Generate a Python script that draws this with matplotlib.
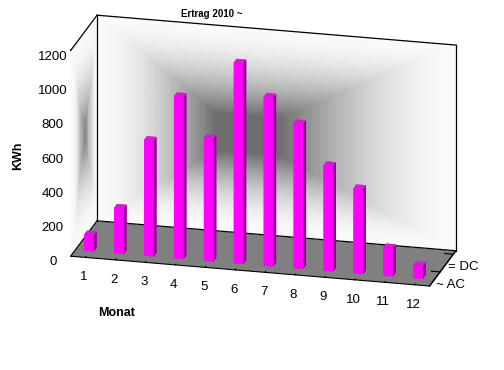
import numpy as np
import matplotlib
matplotlib.use("Agg")
import matplotlib.pyplot as plt

plt.rcParams['font.family'] = ['Liberation Sans', 'DejaVu Sans']

months = [1, 2, 3, 4, 5, 6, 7, 8, 9, 10, 11, 12]
kwh_ac = [95, 265, 675, 945, 715, 1170, 985, 845, 615, 495, 165, 75]
series = ['~ AC', '= DC']
z_ticks = [0, 200, 400, 600, 800, 1000, 1200]

fig = plt.figure(figsize=(5.04, 3.70), dpi=100)
ax = fig.add_axes([-0.020, -0.049, 1.06, 1.25], projection='3d', computed_zorder=False)
ax.view_init(elev=19.5, azim=-76)
ax.set_proj_type('ortho')
ax.set_box_aspect((373, 110, 220), zoom=0.93)

x0, x1 = 0.5, 12.5
y0, y1 = 0.0, 2.0
zmax = 1200
ax.set_xlim(x0, x1)
ax.set_ylim(y0, y1)
ax.set_zlim(0, zmax)

# panes: floor grey, walls covered by gradient surfaces
ax.xaxis.set_pane_color((1, 1, 1, 1))
ax.yaxis.set_pane_color((1, 1, 1, 1))
ax.zaxis.set_pane_color((0.5, 0.5, 0.5, 1))
for a in (ax.xaxis, ax.yaxis, ax.zaxis):
    a.pane.set_edgecolor('none')
ax.grid(False)


def box_grad(n1, n2, c1, c2, core=0.15, dark=0.43, light=0.98, p=1.5):
    u = np.linspace(-1, 1, n1)
    v = np.linspace(-1, 1, n2)
    U, V = np.meshgrid(u, v)
    du = np.where(U < c1, (c1 - U) / (1 + c1), (U - c1) / (1 - c1))
    dv = np.where(V < c2, (c2 - V) / (1 + c2), (V - c2) / (1 - c2))
    d = np.maximum(du, dv)
    d = np.clip((d - core) / (1 - core), 0, 1)
    g = light - (light - dark) * (1 - d) ** p
    return np.dstack([g, g, g, np.ones_like(g)])


# back wall
nx, nz = 160, 100
bx = np.linspace(x0, x1, nx)
bz = np.linspace(0, zmax, nz)
BX, BZ = np.meshgrid(bx, bz)
BY = np.full_like(BX, y1)
cols = box_grad(nx, nz, -0.2, -0.05, core=0.18, p=1.8)
ax.plot_surface(BX, BY, BZ, facecolors=cols[:-1, :-1], shade=False,
                rstride=1, cstride=1, linewidth=0, antialiased=False, zorder=1)

# left wall
ny = 24
ly = np.linspace(y0, y1, ny)
LY, LZ = np.meshgrid(ly, bz)
LX = np.full_like(LY, x0)
cols = box_grad(ny, nz, 0.0, 0.0, core=0.1, dark=0.55, p=2.0)
ax.plot_surface(LX, LY, LZ, facecolors=cols[:-1, :-1], shade=False,
                rstride=1, cstride=1, linewidth=0, antialiased=False, zorder=1)

# frame lines of the walls
frame = dict(color='black', lw=0.9, zorder=2)
ax.plot([x0, x0], [y0, y1], [zmax, zmax], **frame)
ax.plot([x0, x1], [y1, y1], [zmax, zmax], **frame)
ax.plot([x0, x0], [y1, y1], [0, zmax], **frame)
ax.plot([x1, x1], [y1, y1], [0, zmax], **frame)
ax.plot([x0, x1], [y1, y1], [0, 0], **frame)
ax.plot([x0, x0], [y0, y1], [0, 0], **frame)
ax.plot([x1, x1], [y0, y1], [0, 0], **frame)

# bars (AC row in front)
n = len(months)
xs = np.array(months) - 0.2
ys = np.full(n, 0.35)
face_cols = []
for _ in range(n):
    face_cols += ['#ff00ff', '#cc22cc', '#ff00ff', '#ff00ff', '#ff00ff', '#8f008f']
ax.bar3d(xs, ys, np.zeros(n), 0.32, 0.22, kwh_ac, color=face_cols,
         shade=False, zorder=5, edgecolor='none')

ax.set_xticks(months)
ax.set_yticks([0.8, 1.8])
ax.set_yticklabels(series)
ax.set_zticks(z_ticks)
ax.zaxis.set_ticks_position('lower')
for a in (ax.xaxis, ax.yaxis, ax.zaxis):
    a.set_tick_params(labelsize=9.5, pad=2)
    a.line.set_color('black')
    a._axinfo['tick']['inward_factor'] = 0.0
    a._axinfo['tick']['outward_factor'] = 0.3
ax.yaxis.set_tick_params(pad=-3)
ax.zaxis.set_tick_params(pad=0)

fig.text(0.42, 0.962, 'Ertrag 2010 ~', fontsize=7, fontweight='bold', ha='center', va='center')
fig.text(0.036, 0.58, 'KWh', fontsize=9, fontweight='bold', rotation=90, ha='center', va='center')
fig.text(0.232, 0.154, 'Monat', fontsize=9, fontweight='bold', ha='center', va='center')

fig.savefig('out.png', dpi=100)
